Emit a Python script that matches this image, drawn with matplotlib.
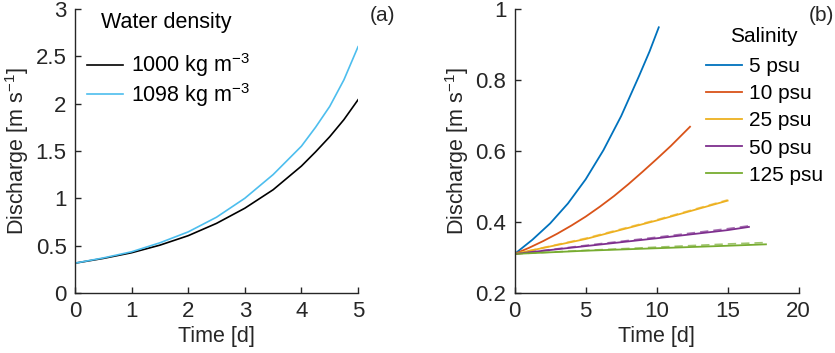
import matplotlib.pyplot as plt
import numpy as np

plt.rcParams['font.family'] = ['Liberation Sans', 'DejaVu Sans']
plt.rcParams['mathtext.fontset'] = 'custom'
plt.rcParams['mathtext.rm'] = 'Liberation Sans'
plt.rcParams['mathtext.default'] = 'regular'

# panel (a): discharge vs time for two water densities
t_a = [0, 0.5, 1, 1.5, 2, 2.5, 3, 3.5, 4, 4.25, 4.5, 4.75, 5]
q_1000 = [0.315, 0.365, 0.425, 0.505, 0.605, 0.735, 0.895, 1.09, 1.34, 1.49, 1.65, 1.83, 2.04]
q_1098 = [0.315, 0.37, 0.435, 0.53, 0.645, 0.80, 1.0, 1.25, 1.55, 1.75, 1.97, 2.25, 2.6]
density_labels = ['1000 kg m$^{-3}$', '1098 kg m$^{-3}$']

# panel (b): discharge vs time for salinities
sal_labels = ['5 psu', '10 psu', '25 psu', '50 psu', '125 psu']
t_5 = [0, 1.25, 2.5, 3.75, 5, 6.25, 7.5, 8.75, 9.5, 10.15]
q_5 = [0.31, 0.35, 0.396, 0.452, 0.52, 0.602, 0.698, 0.81, 0.88, 0.948]
t_10 = [0, 1, 2, 3, 4, 5, 6, 7, 8, 9, 10, 11, 12.35]
q_10 = [0.31, 0.327, 0.346, 0.367, 0.39, 0.415, 0.443, 0.473, 0.506, 0.541, 0.577, 0.614, 0.668]
t_25 = [0, 2.5, 5, 7.5, 10, 12.5, 15.0]
q_25 = [0.31, 0.331, 0.352, 0.378, 0.404, 0.432, 0.46]
t_50 = [0, 5, 10, 15, 16.5]
q_50 = [0.31, 0.332, 0.354, 0.377, 0.386]
t_125 = [0, 5, 10, 15, 17.7]
q_125 = [0.31, 0.319, 0.326, 0.333, 0.337]
# dashed companions (slightly above)
q_25d = [0.31, 0.332, 0.354, 0.38, 0.406, 0.434, 0.462]
q_50d = [0.31, 0.334, 0.357, 0.381, 0.389]
q_125d = [0.31, 0.32, 0.329, 0.338, 0.342]

sal_colors = ['#0072BD', '#D95319', '#EDB120', '#7E2F8E', '#77AC30']
axcol = '#262626'

fig = plt.figure(figsize=(8.35, 3.53), dpi=100)
ax1 = fig.add_axes([0.0898, 0.170, 0.339, 0.805])
ax2 = fig.add_axes([0.6164, 0.170, 0.340, 0.805])

ax1.plot(t_a, q_1000, color='black', lw=1.2, label=density_labels[0])
ax1.plot(t_a, q_1098, color='#4DBEEE', lw=1.2, label=density_labels[1])
ax1.set_xlim(0, 5)
ax1.set_ylim(0, 3)
ax1.set_xticks(range(6))
ax1.set_yticks([0, 0.5, 1, 1.5, 2, 2.5, 3])
ax1.set_yticklabels(['0', '0.5', '1', '1.5', '2', '2.5', '3'])
ax1.set_xlabel('Time [d]', fontsize=15.5, color=axcol, labelpad=3)
ax1.set_ylabel('Discharge [m s$^{-1}$]', fontsize=15.5, color=axcol, labelpad=3)
ax1.legend(loc='upper left', frameon=False,
           fontsize=15.5, handlelength=1.7, borderpad=0,
           handletextpad=0.35, borderaxespad=0.0, labelspacing=0.08,
           bbox_to_anchor=(0.042, 0.85))
ax1.text(0.322, 0.951, 'Water density', transform=ax1.transAxes,
         ha='center', va='center', fontsize=15.5, color='black')
ax1.text(1.085, 1.01, '(a)', transform=ax1.transAxes, ha='center', va='top',
         fontsize=15, color=axcol)

series = [(t_5, q_5), (t_10, q_10), (t_25, q_25), (t_50, q_50), (t_125, q_125)]
for (t, q), c, lab in zip(series, sal_colors, sal_labels):
    ax2.plot(t, q, color=c, lw=1.3, label=lab)
for t, q, c in [(t_25, q_25d, sal_colors[2]), (t_50, q_50d, sal_colors[3]),
                (t_125, q_125d, sal_colors[4])]:
    ax2.plot(t, q, color=c, lw=1.2, ls=(0, (5, 3)), alpha=0.7)
ax2.set_xlim(0, 20)
ax2.set_ylim(0.2, 1)
ax2.set_xticks([0, 5, 10, 15, 20])
ax2.set_yticks([0.2, 0.4, 0.6, 0.8, 1.0])
ax2.set_yticklabels(['0.2', '0.4', '0.6', '0.8', '1'])
ax2.set_xlabel('Time [d]', fontsize=15.5, color=axcol, labelpad=3)
ax2.set_ylabel('Discharge [m s$^{-1}$]', fontsize=15.5, color=axcol, labelpad=3)
ax2.legend(loc='upper left', frameon=False,
           fontsize=15, handlelength=1.7, borderpad=0,
           handletextpad=0.35, borderaxespad=0.0, labelspacing=0.39,
           bbox_to_anchor=(0.675, 0.83))
ax2.text(0.878, 0.901, 'Salinity', transform=ax2.transAxes,
         ha='center', va='center', fontsize=15, color='black')
ax2.text(1.08, 1.01, '(b)', transform=ax2.transAxes, ha='center', va='top',
         fontsize=15, color=axcol)

for ax in (ax1, ax2):
    for s in ('top', 'right'):
        ax.spines[s].set_visible(False)
    for s in ('left', 'bottom'):
        ax.spines[s].set_color(axcol)
        ax.spines[s].set_linewidth(1.0)
    ax.tick_params(direction='in', length=4, width=1.0, colors=axcol,
                   labelsize=16)
    ax.tick_params(axis='x', pad=6)
    ax.tick_params(axis='y', pad=6)

fig.savefig('out.png', dpi=100)
